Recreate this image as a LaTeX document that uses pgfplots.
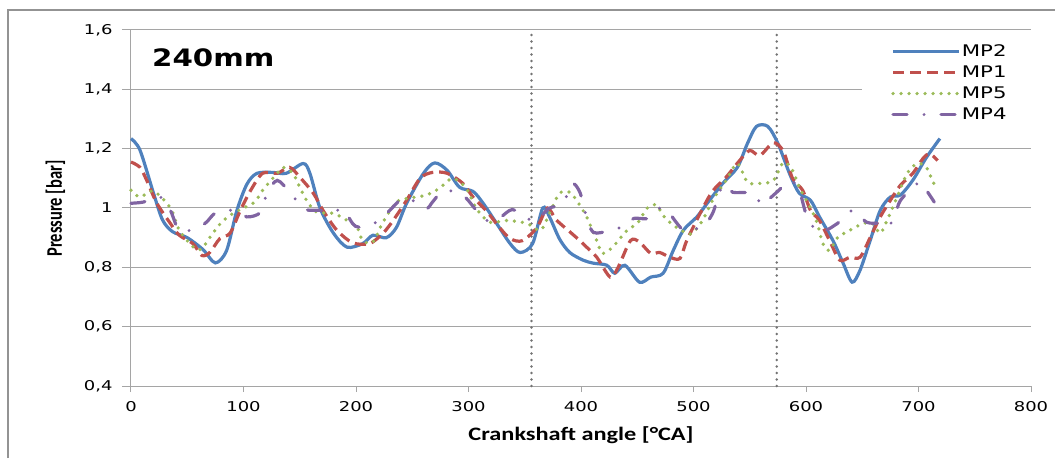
\documentclass[border=0pt]{standalone}
\usepackage{fontspec}
\usepackage{graphicx}
\usepackage{pgfplots}
\pgfplotsset{compat=1.18}
\usepackage{pgfplotstable}
\setmainfont{DejaVu Sans}
\newfontfamily\tickfont[FakeStretch=1.33]{DejaVu Sans}
\newfontfamily\titlefont[FakeStretch=1.22]{DejaVu Sans}
\newfontfamily\labfont[FakeStretch=1.28]{Carlito}
\newfontfamily\ylabfont{Carlito}

\definecolor{mpblue}{RGB}{79,129,189}
\definecolor{mpred}{RGB}{192,80,77}
\definecolor{mpgreen}{RGB}{155,187,89}
\definecolor{mppurple}{RGB}{128,100,162}
\definecolor{gridgray}{RGB}{165,165,165}

% pressure traces, crank angle vs bar
\pgfplotstableread{
x y
0 1.234
8 1.195
20 1.05
28 0.96
37 0.92
50 0.90
64 0.86
75 0.815
85 0.857
94 0.99
103 1.08
112 1.117
126 1.12
138 1.117
153 1.15
159 1.117
168 1.0
180 0.915
192 0.868
206 0.88
215 0.908
227 0.90
236 0.935
245 1.016
260 1.117
270 1.152
281 1.127
292 1.07
304 1.056
313 1.016
325 0.948
337 0.88
346 0.85
357 0.88
366 1.0
372 0.97
381 0.895
390 0.85
402 0.824
411 0.814
423 0.807
430 0.78
439 0.807
452 0.75
462 0.767
473 0.78
482 0.857
491 0.925
503 0.97
512 1.015
526 1.083
539 1.137
548 1.218
556 1.275
566 1.275
575 1.218
586 1.11
594 1.05
604 1.026
612 0.97
624 0.89
633 0.814
641 0.75
648 0.79
657 0.89
666 0.992
675 1.037
684 1.044
695 1.094
707 1.17
719 1.234
}\mptwo

\pgfplotstableread{
x y
0 1.155
8 1.137
14 1.093
23 1.016
35 0.948
43 0.908
55 0.88
63 0.84
70 0.85
79 0.897
88 0.915
97 0.99
106 1.057
117 1.117
130 1.117
141 1.137
150 1.104
162 1.05
171 0.99
183 0.925
197 0.883
212 0.88
224 0.915
233 0.958
245 1.026
257 1.1
268 1.12
281 1.117
295 1.083
304 1.037
316 0.99
327 0.937
337 0.897
348 0.89
361 0.935
370 1.0
378 0.96
390 0.92
399 0.89
405 0.868
414 0.834
426 0.767
433 0.80
444 0.89
452 0.885
462 0.847
470 0.85
479 0.834
488 0.83
494 0.89
507 0.99
517 1.057
529 1.104
541 1.16
550 1.194
559 1.177
571 1.22
580 1.19
588 1.10
597 1.06
604 0.992
612 0.958
621 0.89
630 0.824
639 0.834
648 0.834
657 0.90
666 0.97
675 1.026
684 1.077
695 1.117
704 1.167
710 1.183
717 1.16
}\mpone

\pgfplotstableread{
x y
0 1.06
8 1.037
20 1.057
35 1.0
43 0.925
55 0.87
62 0.86
70 0.90
80 0.95
90 0.98
100 1.0
110 1.02
117 1.06
130 1.117
135 1.137
144 1.117
150 1.07
156 1.026
165 0.986
180 0.982
192 0.958
201 0.935
206 0.89
215 0.885
224 0.952
236 1.02
247 1.033
262 1.043
274 1.066
286 1.1
298 1.066
307 0.998
319 0.952
334 0.958
352 0.948
364 0.925
372 0.982
381 1.05
390 1.053
396 1.026
405 0.97
414 0.89
419 0.847
428 0.868
441 0.925
450 0.948
459 1.0
467 1.01
473 0.975
482 0.942
494 0.915
499 0.915
508 0.958
517 1.026
529 1.093
539 1.15
548 1.087
559 1.083
571 1.093
580 1.154
588 1.127
594 1.07
604 1.0
610 0.948
615 0.88
621 0.857
628 0.90
639 0.925
651 0.948
659 0.948
666 0.915
672 0.958
681 1.037
690 1.117
699 1.15
707 1.137
713 1.087
717 1.066
}\mpfive

\pgfplotstableread{
x y
0 1.016
11 1.02
26 1.037
35 0.992
43 0.925
58 0.93
67 0.952
76 0.985
94 0.992
103 0.97
115 0.985
121 1.05
130 1.093
141 1.053
147 1.026
155 0.995
168 0.992
180 0.985
188 0.998
197 0.948
203 0.935
218 0.952
230 0.992
239 1.026
247 1.033
262 0.998
268 1.02
277 1.057
290 1.053
298 1.033
307 0.992
316 0.958
327 0.965
339 0.995
352 0.965
361 0.958
371 0.998
384 1.016
392 1.083
399 1.053
404 0.982
411 0.918
426 0.925
441 0.942
447 0.965
460 0.965
470 1.0
477 0.992
482 0.965
491 0.925
499 0.93
508 0.935
517 0.982
526 1.077
535 1.053
552 1.05
561 1.01
566 1.026
576 1.06
586 1.093
594 1.06
601 0.97
612 0.918
628 0.948
632 0.965
642 0.992
654 0.952
666 0.948
672 0.935
679 0.97
684 1.026
701 1.087
707 1.06
714 1.02
}\mpfour

\begin{document}
\begin{tikzpicture}
\path[use as bounding box] (-131pt,-72pt) rectangle (924pt,386pt);
\draw[gray!85, line width=2pt] (-123pt,-72pt) -- (-123pt,376pt) -- (924pt,376pt);

\begin{axis}[
    at={(0pt,0pt)}, anchor=south west,
    scale only axis,
    width=900pt, height=356pt,
    xmin=0, xmax=800, ymin=0.4, ymax=1.6,
    xtick={0,100,...,800},
    ytick={0.4,0.6,0.8,1.0,1.2,1.4,1.6},
    axis lines=left,
    axis line style={gridgray, line width=1pt, -},
    tick align=outside,
    xtick style={gridgray, line width=1pt, /pgfplots/major tick length=6pt},
    ytick style={gridgray, line width=1pt, /pgfplots/major tick length=9pt},
    ymajorgrids,
    grid style={gridgray, line width=1pt},
    /pgf/number format/.cd, use comma, fixed, precision=1, assume math mode=true,
    /pgfplots/.cd,
    tick label style={font=\fontsize{13.5}{16}\tickfont, black},
    yticklabel style={anchor=east, inner sep=0pt, xshift=-14pt},
    xticklabel style={anchor=north, inner sep=0pt, yshift=-11pt},
    xlabel={\fontsize{19}{22}\labfont\bfseries Crankshaft angle [°CA]},
    ylabel={\scalebox{1.35}[1]{\rotatebox{90}{\fontsize{16.5}{19}\ylabfont\bfseries Pressure [bar]}}},
    every axis x label/.style={at={(axis description cs:0.5,0)}, anchor=base, yshift=-54pt},
    every axis y label/.style={at={(axis description cs:0,0.5)}, anchor=center, xshift=-75.5pt, yshift=-0.5pt},
    legend style={
        at={(0.8122,0.975)}, anchor=north west,
        draw=none, fill=white,
        inner xsep=29pt, inner ysep=2pt,
        font=\fontsize{16}{19}\tickfont,
        row sep=0pt,
        nodes={inner sep=1pt, text height=14pt, text depth=5pt}},
    legend cell align=left,
    legend image code/.code={\draw[#1] (0pt,0pt) -- (66pt,0pt);},
    clip=false,
]
\addplot[forget plot, gray!90!black, line width=2.8pt, line cap=round,
    dash pattern=on 0pt off 6.5pt] coordinates {(356,0.4) (356,1.6)};
\addplot[forget plot, gray!90!black, line width=2.8pt, line cap=round,
    dash pattern=on 0pt off 6.5pt] coordinates {(574,0.4) (574,1.6)};

\addplot[mpblue, line width=3.2pt, smooth, tension=0.5] table {\mptwo};
\addlegendentry{MP2}
\addplot[mpred, line width=3.2pt, smooth, tension=0.5,
    dash pattern=on 11pt off 6pt] table {\mpone};
\addlegendentry{MP1}
\addplot[mpgreen, line width=3.7pt, smooth, tension=0.5, line cap=round,
    dash pattern=on 0pt off 8pt] table {\mpfive};
\addlegendentry{MP5}
\addplot[mppurple, line width=3.2pt, smooth, tension=0.5, line cap=round,
    dash pattern=on 14pt off 17pt on 0pt off 17pt] table {\mpfour};
\addlegendentry{MP4}
\end{axis}

\node[anchor=base west, inner sep=0pt] at (21pt,319pt)
    {\fontsize{24}{28}\titlefont\bfseries 240mm};
\end{tikzpicture}
\end{document}
